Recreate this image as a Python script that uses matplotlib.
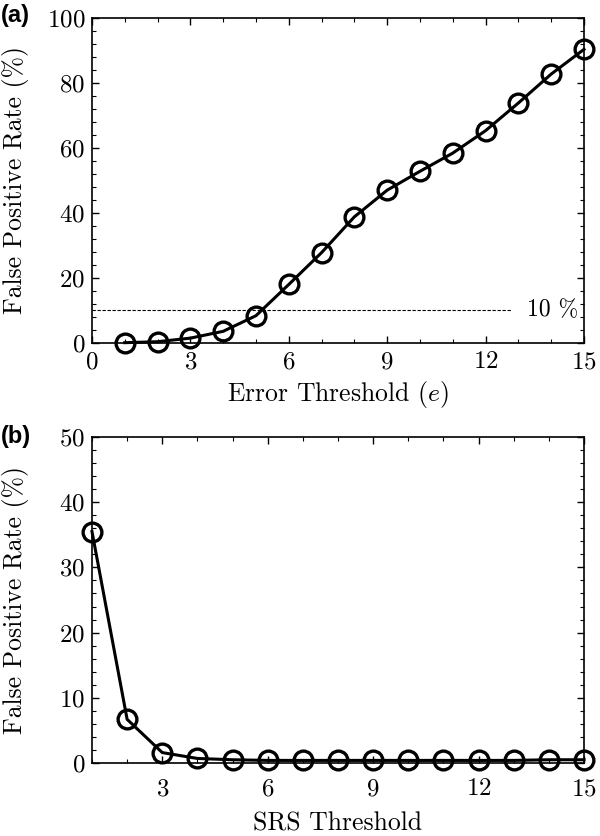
import numpy as np
import matplotlib
matplotlib.use("Agg")
import matplotlib.pyplot as plt
import matplotlib.ticker as tic

# data
err_thr = [1, 2, 3, 4, 5, 6, 7, 8, 9, 10, 11, 12, 13, 14, 15]
fpr_err = [0.1, 0.4, 1.5, 3.6, 8.4, 18.0, 27.8, 38.8, 47.0, 52.8, 58.4, 65.3, 73.8, 82.7, 90.3]
srs_thr = [1, 2, 3, 4, 5, 6, 7, 8, 9, 10, 11, 12, 13, 14, 15]
fpr_srs = [35.5, 6.7, 1.6, 0.7, 0.5, 0.4, 0.4, 0.4, 0.4, 0.4, 0.4, 0.4, 0.4, 0.5, 0.5]
cutoff = 10

plt.rcParams['font.family'] = 'serif'
plt.rcParams['font.serif'] = ['cmr10']
plt.rcParams['mathtext.fontset'] = 'cm'
plt.rcParams['axes.formatter.use_mathtext'] = True
plt.rcParams['font.size'] = 18
plt.rcParams['xtick.direction'] = 'in'
plt.rcParams['ytick.direction'] = 'in'
plt.rcParams['axes.linewidth'] = 1.2

fig = plt.figure(figsize=(6, 8.36), dpi=100)
ax1 = fig.add_axes([0.1533, 0.5897, 0.82, 0.389])
ax2 = fig.add_axes([0.1533, 0.0873, 0.82, 0.39])

style = dict(color='black', lw=2.2, marker='o', ms=13.5, mfc='none', mec='black', mew=2.4)

# (a)
ax1.plot(err_thr, fpr_err, **style, clip_on=False, zorder=3)
ax1.plot([0, 12.8], [cutoff, cutoff], ls='--', color='black', lw=0.8, dashes=(3, 1.5))
ax1.text(14.05, cutoff, '10 %', ha='center', va='center', fontsize=17)
ax1.set_xlim(0, 15)
ax1.set_ylim(0, 100)
ax1.set_xticks([0, 3, 6, 9, 12, 15])
ax1.set_yticks([0, 20, 40, 60, 80, 100])
ax1.xaxis.set_minor_locator(tic.MultipleLocator(1))
ax1.yaxis.set_minor_locator(tic.MultipleLocator(4))
ax1.set_xlabel(r'Error Threshold ($e$)', fontsize=18.5, labelpad=4)
ax1.set_ylabel(r'False Positive Rate (%)', fontsize=18.5)
ax1.tick_params(axis='x', pad=6)

# (b)
ax2.plot(srs_thr, fpr_srs, **style, clip_on=False, zorder=3)
ax2.set_xlim(1, 15)
ax2.set_ylim(0, 50)
ax2.set_xticks([3, 6, 9, 12, 15])
ax2.set_yticks([0, 10, 20, 30, 40, 50])
ax2.xaxis.set_minor_locator(tic.MultipleLocator(1))
ax2.yaxis.set_minor_locator(tic.MultipleLocator(2))
ax2.set_xlabel('SRS Threshold', fontsize=18.5, labelpad=8)
ax2.set_ylabel(r'False Positive Rate (%)', fontsize=18.5)
ax2.tick_params(axis='x', pad=11)

for ax in (ax1, ax2):
    ax.xaxis.set_ticks_position('both')
    ax.yaxis.set_ticks_position('both')
    ax.tick_params(which='major', length=5, width=1)
    ax.tick_params(which='minor', length=3, width=0.8)
    ax.tick_params(axis='both', labelsize=18)
    ax.tick_params(axis='y', pad=5)
    ax.yaxis.set_label_coords(-0.127, 0.5)

fig.text(0.002, 0.982, '(a)', fontsize=17, fontweight='bold', family='Liberation Sans', va='center')
fig.text(0.002, 0.478, '(b)', fontsize=17, fontweight='bold', family='Liberation Sans', va='center')

plt.savefig("out.png")
plt.close()
